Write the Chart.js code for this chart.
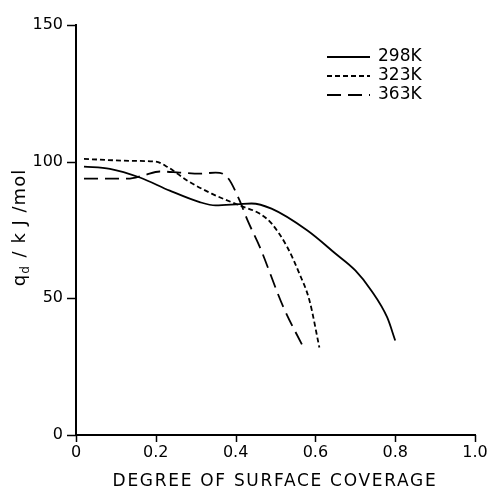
<!DOCTYPE html>
<html><head><meta charset="utf-8">
<script src="https://cdn.jsdelivr.net/npm/chart.js@4"></script>
<style>html,body{margin:0;padding:0;background:#fff}#wrap{width:487px;height:492px}</style>
</head><body><div id="wrap"><canvas id="c" width="487" height="492"></canvas></div>
<script>
const seriesLabels = ["298K", "323K", "363K"];
const x298 = [0.02, 0.085, 0.16, 0.235, 0.31, 0.35, 0.41, 0.44, 0.49, 0.58, 0.65, 0.70, 0.74, 0.78, 0.80];
const y298 = [98.2, 97.4, 94.2, 89.4, 85.2, 84.0, 84.5, 84.7, 82.8, 74.8, 66.4, 60.2, 52.9, 43.0, 34.6];
const x323 = [0.02, 0.14, 0.20, 0.23, 0.28, 0.34, 0.41, 0.46, 0.49, 0.53, 0.56, 0.585, 0.61];
const y323 = [101, 100.3, 100, 98, 93, 88.3, 84, 81, 77.4, 68.6, 59, 49.3, 32];
const x363 = [0.02, 0.13, 0.17, 0.21, 0.26, 0.31, 0.35, 0.38, 0.41, 0.43, 0.46, 0.52, 0.57];
const y363 = [93.8, 93.8, 95, 96.4, 96, 95.6, 96, 94.2, 85.8, 78.5, 69, 46.7, 32];
const xTicks = [0, 0.2, 0.4, 0.6, 0.8, 1.0];
const xTickLabels = ["0", "0.2", "0.4", "0.6", "0.8", "1.0"];
const yTicks = [0, 50, 100, 150];
const xTitle = "DEGREE OF SURFACE COVERAGE";
const yTitleMain = "q";
const yTitleSub = "d";
const yTitleRest = " / k J /mol";

const FONT = '"DejaVu Sans", "Liberation Sans", sans-serif';
const dashes = [[], [5, 3], [14, 7]];
function pts(xs, ys) { return xs.map((x, i) => ({x: x, y: ys[i]})); }
const datasets = [[x298, y298], [x323, y323], [x363, y363]].map((s, i) => ({
  label: seriesLabels[i],
  data: pts(s[0], s[1]),
  borderColor: '#000',
  borderWidth: 1.8,
  borderDash: dashes[i],
  pointRadius: 0,
  fill: false,
  cubicInterpolationMode: 'monotone',
  tension: 0.4
}));

const customDraw = {
  id: 'customDraw',
  afterDraw(chart) {
    const ctx = chart.ctx;
    const area = chart.chartArea;
    const xs = chart.scales.x, ys = chart.scales.y;
    ctx.save();
    ctx.fillStyle = '#000';
    ctx.strokeStyle = '#000';
    ctx.lineWidth = 1.5;
    // tick marks
    yTicks.forEach(v => {
      const py = Math.round(ys.getPixelForValue(v)) + 0.5;
      ctx.beginPath(); ctx.moveTo(area.left - 9, py); ctx.lineTo(area.left, py); ctx.stroke();
    });
    xTicks.forEach(v => {
      const px = Math.round(xs.getPixelForValue(v)) + 0.5;
      ctx.beginPath(); ctx.moveTo(px, area.bottom); ctx.lineTo(px, area.bottom + 7); ctx.stroke();
    });
    // legend
    const lx0 = 327, lx1 = 370, tx = 378;
    const rows = [57, 76, 95];
    ctx.font = '17px ' + FONT;
    ctx.textBaseline = 'middle';
    chart.data.datasets.forEach((ds, i) => {
      ctx.beginPath();
      ctx.lineWidth = 1.8;
      ctx.setLineDash(ds.borderDash);
      ctx.moveTo(lx0, rows[i]);
      ctx.lineTo(lx1, rows[i]);
      ctx.stroke();
      ctx.setLineDash([]);
      ctx.fillText(ds.label, tx, rows[i]);
    });
    // x title
    ctx.font = '17px ' + FONT;
    ctx.letterSpacing = '1.7px';
    ctx.textAlign = 'center';
    ctx.textBaseline = 'middle';
    ctx.fillText(xTitle, 275, 482);
    ctx.textAlign = 'left';
    // y title
    ctx.translate(20, 228);
    ctx.rotate(-Math.PI / 2);
    ctx.textBaseline = 'alphabetic';
    ctx.letterSpacing = '1px';
    ctx.font = '18px ' + FONT;
    const wq = ctx.measureText(yTitleMain).width;
    ctx.font = '12px ' + FONT;
    const wd = ctx.measureText(yTitleSub).width;
    ctx.font = '18px ' + FONT;
    const wr = ctx.measureText(yTitleRest).width;
    let x = -(wq + wd + wr) / 2;
    ctx.font = '18px ' + FONT;
    ctx.fillText(yTitleMain, x, 5); x += wq;
    ctx.font = '12px ' + FONT;
    ctx.fillText(yTitleSub, x, 9); x += wd + 1;
    ctx.font = '18px ' + FONT;
    ctx.fillText(yTitleRest, x, 5);
    ctx.restore();
  }
};

new Chart(document.getElementById('c'), {
  type: 'line',
  data: { datasets: datasets },
  options: {
    responsive: false,
    animation: false,
    layout: { padding: { top: 25, right: 12, left: 0, bottom: 0 } },
    plugins: { legend: { display: false }, tooltip: { enabled: false } },
    scales: {
      x: {
        type: 'linear', min: 0, max: 1.0,
        afterBuildTicks(s) { s.ticks = xTicks.map(v => ({value: v})); },
        afterFit(s) { s.height = 57; s.paddingLeft = 0; s.paddingRight = 0; },
        grid: { display: false, drawOnChartArea: false, drawTicks: false },
        border: { display: true, color: '#000', width: 2 },
        ticks: { color: '#000', font: { size: 16, family: FONT }, padding: 8, maxRotation: 0,
          callback: (v) => { const i = xTicks.indexOf(v); return i >= 0 ? xTickLabels[i] : ''; } },
        title: { display: false }
      },
      y: {
        type: 'linear', min: 0, max: 150,
        afterBuildTicks(s) { s.ticks = yTicks.map(v => ({value: v})); },
        afterFit(s) { s.width = 76; s.paddingTop = 0; s.paddingBottom = 0; },
        grid: { display: false, drawOnChartArea: false, drawTicks: false },
        border: { display: true, color: '#000', width: 2 },
        ticks: { color: '#000', font: { size: 16, family: FONT }, padding: 13 }
      }
    }
  },
  plugins: [customDraw]
});
</script>
</body></html>
